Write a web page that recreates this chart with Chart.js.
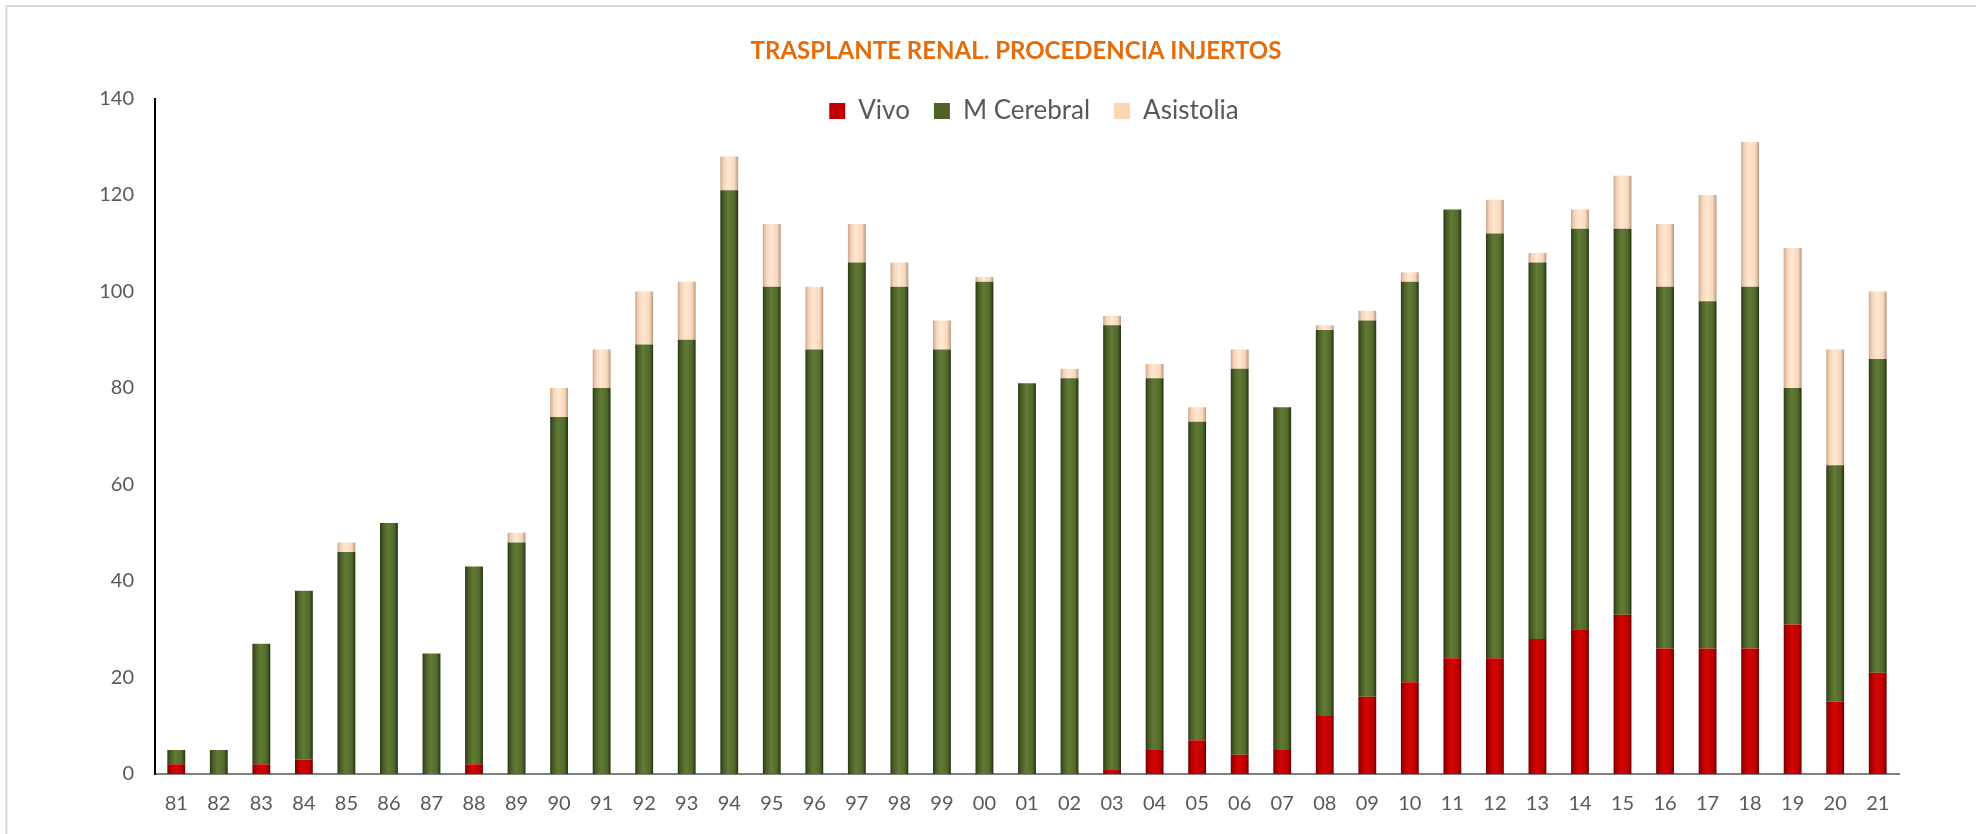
<!DOCTYPE html>
<html>
<head>
<meta charset="utf-8">
<script src="https://cdn.jsdelivr.net/npm/chart.js@4/dist/chart.umd.min.js"></script>
<style>
  html, body { margin: 0; padding: 0; background: #ffffff; }
  #wrap { width: 1976px; height: 834px; position: relative; }
</style>
</head>
<body>
<div id="wrap"><canvas id="c"></canvas></div>
<script>
// ---- data ----
const years = ['81','82','83','84','85','86','87','88','89','90',
               '91','92','93','94','95','96','97','98','99','00',
               '01','02','03','04','05','06','07','08','09','10',
               '11','12','13','14','15','16','17','18','19','20','21'];
const vivo = [2,0,2,3,0,0,0,2,0,0,
              0,0,0,0,0,0,0,0,0,0,
              0,0,1,5,7,4,5,12,16,19,
              24,24,28,30,33,26,26,26,31,15,21];
const mCerebral = [3,5,25,35,46,52,25,41,48,74,
                   80,89,90,121,101,88,106,101,88,102,
                   81,82,92,77,66,80,71,80,78,83,
                   93,88,78,83,80,75,72,75,49,49,65];
const asistolia = [0,0,0,0,2,0,0,0,2,6,
                   8,11,12,7,13,13,8,5,6,1,
                   0,2,2,3,3,4,0,1,2,2,
                   0,7,2,4,11,13,22,30,29,24,14];
const seriesNames = ['Vivo', 'M Cerebral', 'Asistolia'];
const chartTitle = 'TRASPLANTE RENAL. PROCEDENCIA INJERTOS';

// ---- styles ----
const FONT = 'Lato, "Liberation Sans", sans-serif';
const solid = ['#C00000', '#4F6228', '#FCD5B5'];
const shades = [
  ['#7a0000', '#b00000', '#d40404', '#c00000', '#6e0000'],
  ['#2c3a15', '#4a5e26', '#627a36', '#516a2c', '#26320f'],
  ['#c9a88f', '#f5d3b8', '#ffe8d2', '#f8d8bc', '#b89680']
];
const BAR_FRACTION = 0.42;
const LEGEND_PAD = 24;

function shaded(i) {
  return function (ctx) {
    const chart = ctx.chart;
    const xs = chart.scales && chart.scales.x;
    if (!xs || ctx.type !== 'data' || !isFinite(xs.width) || xs.width <= 0) return solid[i];
    const cx = xs.getPixelForValue(ctx.dataIndex);
    const w = xs.width / years.length * BAR_FRACTION;
    const g = chart.ctx.createLinearGradient(cx - w / 2, 0, cx + w / 2, 0);
    const s = shades[i];
    g.addColorStop(0, s[0]);
    g.addColorStop(0.18, s[1]);
    g.addColorStop(0.45, s[2]);
    g.addColorStop(0.8, s[3]);
    g.addColorStop(1, s[4]);
    return g;
  };
}

const framePlugin = {
  id: 'frame',
  beforeDraw(chart) {
    const c = chart.ctx;
    c.save();
    c.fillStyle = '#ffffff';
    c.fillRect(0, 0, chart.width, chart.height);
    c.strokeStyle = '#d9d9d9';
    c.lineWidth = 2;
    c.beginPath();
    c.moveTo(6.5, chart.height);
    c.lineTo(6.5, 6);
    c.lineTo(chart.width, 6);
    c.stroke();
    c.restore();
  }
};

const headerPlace = {
  id: 'headerPlace',
  afterLayout(chart) {
    const tb = chart.titleBlock;
    if (tb) { tb.left = 133; tb.right = 1899; }
    const lg = chart.legend;
    if (lg) {
      const top = 111 - 13 - LEGEND_PAD;
      lg.top = top;
      lg.bottom = top + 80;
      lg.left = 133 + 18;
      lg.right = 1899 + 18;
      if (lg.adjustHitBoxes) lg.adjustHitBoxes();
    }
  }
};

new Chart(document.getElementById('c'), {
  type: 'bar',
  data: {
    labels: years,
    datasets: [
      { label: seriesNames[0], data: vivo, backgroundColor: shaded(0) },
      { label: seriesNames[1], data: mCerebral, backgroundColor: shaded(1) },
      { label: seriesNames[2], data: asistolia, backgroundColor: shaded(2) }
    ].map(d => Object.assign(d, { barPercentage: BAR_FRACTION / 0.98, categoryPercentage: 0.98, borderWidth: 0 }))
  },
  options: {
    responsive: true,
    maintainAspectRatio: false,
    animation: false,
    layout: { padding: { left: 40, right: 77, top: 0, bottom: 0 } },
    plugins: {
      title: {
        display: true,
        text: chartTitle,
        color: '#E46C0A',
        font: { family: FONT, size: 24, weight: 'bold' },
        padding: { top: 36.6, bottom: 0 }
      },
      legend: {
        display: true,
        position: 'top',
        maxHeight: 33.1,
        labels: {
          color: '#595959',
          font: { family: FONT, size: 26 },
          boxWidth: 16,
          boxHeight: 16,
          padding: LEGEND_PAD,
          generateLabels(chart) {
            const items = Chart.defaults.plugins.legend.labels.generateLabels(chart);
            items.forEach((it, i) => { it.fillStyle = solid[i]; it.strokeStyle = solid[i]; it.lineWidth = 0; });
            return items;
          }
        }
      },
      tooltip: { enabled: false }
    },
    scales: {
      x: {
        stacked: true,
        grid: { display: false, drawTicks: false },
        border: { display: true, color: '#808080', width: 2 },
        ticks: { color: '#595959', font: { family: FONT, size: 20 }, padding: 18, maxRotation: 0, autoSkip: false },
        afterFit(s) { s.height = 60; }
      },
      y: {
        stacked: true,
        min: 0,
        max: 140,
        grid: { display: false, drawTicks: false },
        border: { display: true, color: '#000000', width: 2 },
        ticks: { stepSize: 20, color: '#595959', font: { family: FONT, size: 20 }, padding: 21 },
        afterFit(s) { s.width = 115; }
      }
    }
  },
  plugins: [framePlugin, headerPlace]
});
</script>
</body>
</html>
